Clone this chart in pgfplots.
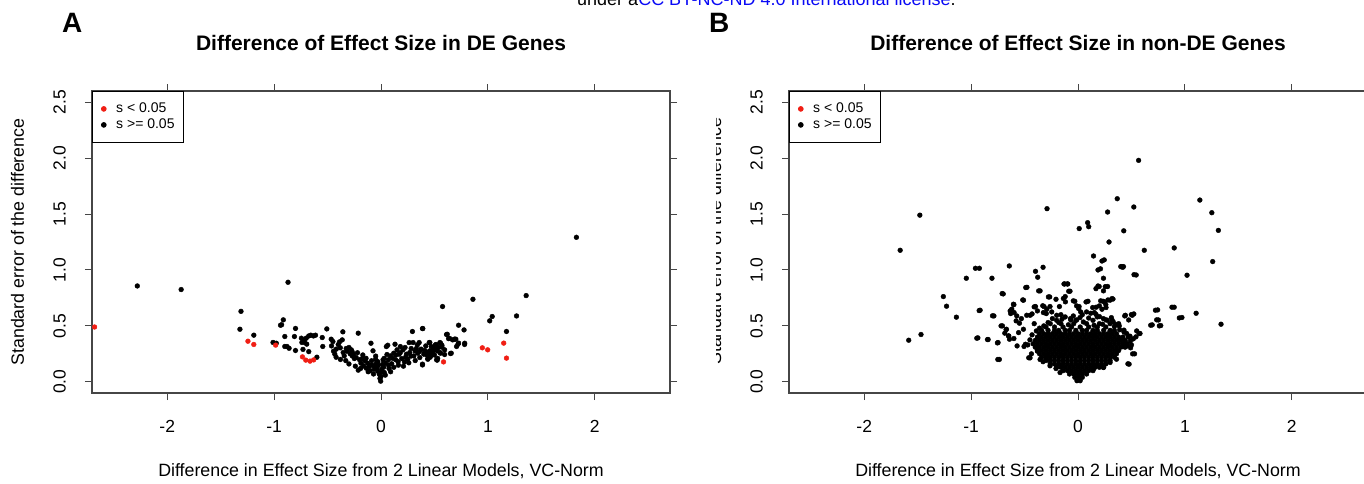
\documentclass[border=0pt]{standalone}
\usepackage{pgfplots}
\pgfplotsset{compat=1.18}
\usepackage{fontspec}
\setmainfont{Liberation Sans}
\definecolor{rred}{RGB}{240,30,20}
\definecolor{lic}{RGB}{10,10,245}
\definecolor{frame}{RGB}{70,70,70}
\pgfplotsset{
 rstyle/.style={
  scale only axis, width=578pt, height=302pt,
  xmin=-2.704, xmax=2.704, ymin=-0.1, ymax=2.6,
  xtick={-2,-1,0,1,2}, ytick={0,0.5,1,1.5,2,2.5},
  tick align=outside, major tick length=7pt,
  every tick/.style={frame, line width=1pt},
  axis line style={frame, line width=1.2pt},
  tick label style={font=\fontsize{17.5}{20}\selectfont},
  /pgf/number format/assume math mode=true,
  yticklabel style={/pgf/number format/fixed, /pgf/number format/fixed zerofill, /pgf/number format/precision=1, rotate=90, anchor=base},
  xticklabel style={anchor=base},
  xticklabel shift=32.3pt, yticklabel shift=19.3pt,
  label style={font=\fontsize{17.8}{20}\selectfont},
  xlabel style={at={([yshift=-83.7pt]axis description cs:0.5,0)}, anchor=base},
  ylabel style={at={([xshift=-68pt]axis description cs:0,0.5)}, anchor=base},
  title style={at={([yshift=34.7pt]axis description cs:0.5,1)}, anchor=base, font=\bfseries\fontsize{21}{24}\selectfont},
  xlabel={Difference in Effect Size from 2 Linear Models, VC-Norm},
  ylabel={Standard error of the difference},
  legend cell align=left,
  legend style={at={(0,1)}, anchor=north west, draw=black, line width=0.8pt, fill=white,
    font=\fontsize{14}{16}\selectfont, inner xsep=9pt, inner ysep=11pt, row sep=3pt, column sep=10pt,
    nodes={inner sep=0pt, text height=10pt, text depth=3pt}},
  legend image code/.code={\draw[mark=*, mark size=2.4pt, #1] plot coordinates {(0pt,0pt)};},
 },
 pts/.style={only marks, mark=*, mark size=2.4pt, forget plot},
}
\begin{document}
\begin{tikzpicture}
\useasboundingbox (0pt,0pt) rectangle (1364pt,483pt);
% ---------------- Panel A ----------------
\begin{axis}[rstyle, at={(92pt,90pt)}, anchor=south west,
  title={Difference of Effect Size in DE Genes}]
\addlegendimage{only marks, mark=*, mark size=2.4pt, rred}
\addlegendentry{s < 0.05}
\addlegendimage{only marks, mark=*, mark size=2.4pt, black}
\addlegendentry{s >= 0.05}
\addplot[pts, black] coordinates {
(-2.28,0.857) (-1.87,0.825) (-1.31,0.63) (-1.32,0.47) (-1.19,0.417) (-0.94,0.506) (-0.914,0.554)
(-1.01,0.352) (-0.98,0.345) (-0.90,0.405) (-0.90,0.316) (-0.87,0.89) (-0.93,0.51)
(-0.88,0.316) (-0.86,0.30) (-0.80,0.477) (-0.81,0.405) (-0.80,0.28)
(-0.745,0.39) (-0.72,0.375) (-0.70,0.39) (-0.676,0.41) (-0.657,0.417) (-0.632,0.41) (-0.613,0.417)
(-0.74,0.352) (-0.714,0.352) (-0.695,0.337) (-0.73,0.29) (-0.676,0.27) (-0.60,0.22)
(-0.55,0.396) (-0.545,0.316) (-0.507,0.473) (-0.466,0.381)
(-0.463,0.321) (-0.444,0.274) (-0.432,0.247) (-0.419,0.292) (-0.40,0.333) (-0.388,0.357) (-0.381,0.304)
(-0.363,0.375) (-0.357,0.447) (-0.354,0.262) (-0.344,0.232) (-0.326,0.298) (-0.319,0.274) (-0.30,0.307)
(-0.288,0.25) (-0.278,0.286) (-0.269,0.232) (-0.25,0.208) (-0.257,0.247) (-0.232,0.217) (-0.213,0.435)
(-0.213,0.104) (-0.20,0.197) (-0.188,0.167) (-0.175,0.208) (-0.163,0.143) (-0.15,0.188) (-0.138,0.122)
(-0.125,0.167) (-0.113,0.137) (-0.10,0.10) (-0.094,0.345) (-0.088,0.188) (-0.075,0.277) (-0.069,0.143)
(-0.063,0.113) (-0.05,0.202) (-0.044,0.167) (-0.038,0.125) (-0.031,0.095) (-0.025,0.149) (-0.016,0.068)
(-0.01,0.03) (-0.003,0.006) (0,0.048) (0.006,0.113) (0.013,0.155) (0.019,0.197) (0.025,0.131)
(0.031,0.083) (0.044,0.167) (0.05,0.315) (0.056,0.244) (0.063,0.327) (0.069,0.197) (0.075,0.119)
(0.088,0.232) (0.10,0.161) (0.119,0.256) (0.131,0.336) (0.138,0.197) (0.15,0.286) (0.163,0.149)
(0.169,0.247) (0.181,0.315) (0.194,0.208) (0.206,0.286) (0.219,0.178) (0.225,0.307) (0.238,0.247)
(0.25,0.202) (0.263,0.351) (0.269,0.262) (0.282,0.298) (0.294,0.45) (0.30,0.351) (0.307,0.232)
(0.319,0.277) (0.331,0.298) (0.344,0.256) (0.357,0.351) (0.363,0.217) (0.376,0.292) (0.388,0.476)
(0.388,0.158) (0.401,0.247) (0.419,0.321) (0.438,0.208) (0.451,0.351) (0.457,0.277) (0.47,0.315)
(0.482,0.256) (0.495,0.298) (0.507,0.327) (0.52,0.197) (0.526,0.277) (0.538,0.307) (0.551,0.351)
(0.557,0.256) (0.57,0.327)
(-0.45,0.36) (-0.42,0.22) (-0.38,0.20) (-0.33,0.19) (-0.30,0.16) (-0.27,0.27) (-0.24,0.14) (-0.22,0.26)
(-0.19,0.12) (-0.17,0.24) (-0.14,0.21) (-0.12,0.09) (-0.09,0.15) (-0.07,0.07) (-0.05,0.23) (-0.03,0.18)
(0.01,0.09) (0.03,0.21) (0.04,0.06) (0.07,0.15) (0.09,0.09) (0.11,0.21) (0.12,0.13) (0.14,0.24)
(0.16,0.18) (0.18,0.26) (0.21,0.14) (0.23,0.22) (0.26,0.17) (0.28,0.23) (0.32,0.19) (0.34,0.33)
(0.36,0.27) (0.41,0.28) (0.43,0.24) (0.46,0.22) (0.50,0.24) (0.53,0.21)
(0.576,0.673) (0.62,0.425) (0.632,0.386) (0.657,0.256) (0.67,0.375) (0.70,0.381) (0.72,0.336)
(0.726,0.506) (0.777,0.464) (0.783,0.345) (0.86,0.738) (1.828,1.292) (1.358,0.771) (1.04,0.584)
(1.017,0.545) (1.268,0.589) (1.174,0.45)
(0.391,0.476) (0.613,0.423) (0.642,0.388) (0.689,0.382) (0.726,0.346) (0.707,0.316) (0.782,0.334)
(0.65,0.253) (0.457,0.351) (0.514,0.334) (0.557,0.346) (0.57,0.31) (0.595,0.286) (0.526,0.304)
(0.488,0.28) (0.445,0.268) (0.551,0.262) (0.47,0.238) (0.438,0.202) (0.526,0.194) (0.595,0.244)
(0.388,0.151) (0.407,0.262)
};
\addplot[pts, rred] coordinates {
(-2.68,0.49) (-1.245,0.363) (-1.19,0.334) (-0.986,0.328) (-0.735,0.223) (-0.704,0.194) (-0.664,0.185)
(-0.63,0.196) (0.585,0.178) (0.948,0.304) (0.998,0.286) (1.148,0.346) (1.174,0.212)
};
\end{axis}
% ---------------- Panel B ----------------
\begin{axis}[rstyle, at={(789pt,90pt)}, anchor=south west, ylabel={},
  title={Difference of Effect Size in non-DE Genes}]
\addlegendimage{only marks, mark=*, mark size=2.4pt, rred}
\addlegendentry{s < 0.05}
\addlegendimage{only marks, mark=*, mark size=2.4pt, black}
\addlegendentry{s >= 0.05}
% dense core
\addplot[pts, black] coordinates {
(-0.01,0.01) (0.02,0.01)
(-0.03,0.04) (0.01,0.04) (0.04,0.04)
(-0.08,0.07) (-0.04,0.07) (0,0.07) (0.04,0.07) (0.08,0.07)
(-0.14,0.10) (-0.10,0.10) (-0.06,0.10) (-0.02,0.10) (0.02,0.10) (0.06,0.10) (0.10,0.10) (0.14,0.10)
(-0.20,0.13) (-0.16,0.13) (-0.12,0.13) (-0.08,0.13) (-0.04,0.13) (0,0.13) (0.04,0.13) (0.08,0.13) (0.12,0.13) (0.16,0.13) (0.20,0.13) (0.24,0.13)
(-0.26,0.16) (-0.22,0.16) (-0.18,0.16) (-0.14,0.16) (-0.10,0.16) (-0.06,0.16) (-0.02,0.16) (0.02,0.16) (0.06,0.16) (0.10,0.16) (0.14,0.16) (0.18,0.16) (0.22,0.16) (0.26,0.16)
(-0.30,0.19) (-0.26,0.19) (-0.22,0.19) (-0.18,0.19) (-0.14,0.19) (-0.10,0.19) (-0.06,0.19) (-0.02,0.19) (0.02,0.19) (0.06,0.19) (0.10,0.19) (0.14,0.19) (0.18,0.19) (0.22,0.19) (0.26,0.19) (0.30,0.19)
(-0.34,0.22) (-0.30,0.22) (-0.26,0.22) (-0.22,0.22) (-0.18,0.22) (-0.14,0.22) (-0.10,0.22) (-0.06,0.22) (-0.02,0.22) (0.02,0.22) (0.06,0.22) (0.10,0.22) (0.14,0.22) (0.18,0.22) (0.22,0.22) (0.26,0.22) (0.30,0.22) (0.34,0.22)
(-0.36,0.25) (-0.32,0.25) (-0.28,0.25) (-0.24,0.25) (-0.20,0.25) (-0.16,0.25) (-0.12,0.25) (-0.08,0.25) (-0.04,0.25) (0,0.25) (0.04,0.25) (0.08,0.25) (0.12,0.25) (0.16,0.25) (0.20,0.25) (0.24,0.25) (0.28,0.25) (0.32,0.25) (0.36,0.25)
(-0.38,0.28) (-0.34,0.28) (-0.30,0.28) (-0.26,0.28) (-0.22,0.28) (-0.18,0.28) (-0.14,0.28) (-0.10,0.28) (-0.06,0.28) (-0.02,0.28) (0.02,0.28) (0.06,0.28) (0.10,0.28) (0.14,0.28) (0.18,0.28) (0.22,0.28) (0.26,0.28) (0.30,0.28) (0.34,0.28) (0.38,0.28)
(-0.40,0.31) (-0.36,0.31) (-0.32,0.31) (-0.28,0.31) (-0.24,0.31) (-0.20,0.31) (-0.16,0.31) (-0.12,0.31) (-0.08,0.31) (-0.04,0.31) (0,0.31) (0.04,0.31) (0.08,0.31) (0.12,0.31) (0.16,0.31) (0.20,0.31) (0.24,0.31) (0.28,0.31) (0.32,0.31) (0.36,0.31) (0.40,0.31) (0.44,0.31)
(-0.42,0.34) (-0.38,0.34) (-0.34,0.34) (-0.30,0.34) (-0.26,0.34) (-0.22,0.34) (-0.18,0.34) (-0.14,0.34) (-0.10,0.34) (-0.06,0.34) (-0.02,0.34) (0.02,0.34) (0.06,0.34) (0.10,0.34) (0.14,0.34) (0.18,0.34) (0.22,0.34) (0.26,0.34) (0.30,0.34) (0.34,0.34) (0.38,0.34) (0.42,0.34) (0.46,0.34)
(-0.40,0.37) (-0.36,0.37) (-0.32,0.37) (-0.28,0.37) (-0.24,0.37) (-0.20,0.37) (-0.16,0.37) (-0.12,0.37) (-0.08,0.37) (-0.04,0.37) (0,0.37) (0.04,0.37) (0.08,0.37) (0.12,0.37) (0.16,0.37) (0.20,0.37) (0.24,0.37) (0.28,0.37) (0.32,0.37) (0.36,0.37) (0.40,0.37) (0.44,0.37)
(-0.38,0.40) (-0.34,0.40) (-0.30,0.40) (-0.26,0.40) (-0.22,0.40) (-0.18,0.40) (-0.14,0.40) (-0.10,0.40) (-0.06,0.40) (-0.02,0.40) (0.02,0.40) (0.06,0.40) (0.10,0.40) (0.14,0.40) (0.18,0.40) (0.22,0.40) (0.26,0.40) (0.30,0.40) (0.34,0.40) (0.38,0.40) (0.42,0.40)
(-0.36,0.43) (-0.32,0.43) (-0.28,0.43) (-0.24,0.43) (-0.20,0.43) (-0.16,0.43) (-0.12,0.43) (-0.08,0.43) (-0.04,0.43) (0,0.43) (0.04,0.43) (0.08,0.43) (0.12,0.43) (0.16,0.43) (0.20,0.43) (0.24,0.43) (0.28,0.43) (0.32,0.43) (0.36,0.43)
(-0.34,0.46) (-0.28,0.46) (-0.22,0.46) (-0.18,0.46) (-0.12,0.46) (-0.08,0.46) (-0.02,0.46) (0.04,0.46) (0.08,0.46) (0.14,0.46) (0.18,0.46) (0.24,0.46) (0.30,0.46) (0.34,0.46)
(-0.30,0.49) (-0.22,0.49) (-0.14,0.49) (-0.06,0.49) (0.02,0.49) (0.10,0.49) (0.18,0.49) (0.26,0.49)
(-0.26,0.52) (-0.16,0.52) (-0.04,0.52) (0.08,0.52) (0.20,0.52) (0.30,0.52)
(-0.20,0.55) (-0.02,0.55) (0.14,0.55)
(-0.32,0.50) (-0.09,0.51) (0.05,0.535) (0.15,0.505) (0.23,0.515) (0.34,0.495) (0.39,0.465)
(-0.39,0.455) (-0.43,0.42) (0.43,0.445) (0.47,0.40) (0.49,0.365) (-0.45,0.375) (-0.47,0.33)
(0.50,0.33) (-0.12,0.58) (0.04,0.60) (0.10,0.57) (-0.24,0.565) (0.26,0.555) (0.32,0.55)
(-0.28,0.53) (-0.07,0.565) (0.18,0.58) (-0.36,0.48) (0.38,0.52) (-0.16,0.60) (0.08,0.625)
};
% scattered points
\addplot[pts, black] coordinates {
(0.567,1.98) (-1.48,1.49) (-1.664,1.176) (-0.29,1.548) (0.367,1.637) (0.277,1.518) (0.522,1.563)
(1.14,1.625) (1.252,1.512) (1.313,1.354) (0.011,1.37) (0.09,1.423) (0.10,1.387) (0.428,1.35)
(0.29,1.25) (0.62,1.176) (0.90,1.197) (1.26,1.075) (0.145,1.125) (0.245,1.09) (0.21,1.01)
(0.41,1.03) (0.425,1.03) (0.544,0.955) (1.02,0.953) (0.238,0.926) (0.198,0.852) (0.277,0.852)
(-0.96,1.015) (-0.923,1.015) (-0.643,1.036) (-1.045,0.926) (-0.805,0.926) (-0.398,0.988)
(-0.377,0.935) (-0.327,1.024) (-0.478,0.845) (-0.355,0.813) (-0.125,0.875) (-0.096,0.875)
(-0.075,0.81) (-0.70,0.786) (-1.26,0.762) (-1.23,0.676) (-1.138,0.578) (-0.916,0.64) (-0.787,0.589)
(-1.584,0.372) (-1.469,0.423) (-0.937,0.393) (-0.841,0.378) (-0.748,0.351) (-0.736,0.2)
(0.478,0.158) (0.745,0.643) (0.9,0.667) (1.105,0.613) (0.972,0.575) (1.338,0.515) (0.694,0.509)
(0.752,0.553) (0.774,0.503) (0.507,0.595) (0.522,0.607) (0.443,0.595) (0.12,0.613) (-0.51,0.73)
(-0.6,0.69) (-0.62,0.65) (-0.63,0.61) (-0.398,0.673) (-0.33,0.68) (-0.297,0.61) (-0.265,0.759)
(-0.12,0.762) (-0.03,0.72) (0.01,0.673) (0.093,0.72) (0.17,0.667) (0.234,0.72) (0.26,0.69)
(0.30,0.73) (0.327,0.74) (0.238,0.813) (-0.206,0.738) (-0.707,0.5) (-0.67,0.47) (-0.556,0.44)
(-0.65,0.41) (-0.6,0.387) (-0.57,0.321) (-0.449,0.214) (-0.327,0.18) (0.529,0.25) (0.572,0.432)
(-0.71,0.789) (-0.925,0.637) (-0.80,0.59) (-0.947,0.39) (-0.847,0.378) (-0.754,0.348) (-0.75,0.20)
(-0.72,0.50) (-0.673,0.467) (-0.685,0.435) (-0.641,0.381) (-0.648,0.41) (-0.604,0.694) (-0.635,0.634)
(-0.598,0.619) (-0.573,0.589) (-0.579,0.545) (-0.548,0.524) (-0.53,0.565) (-0.511,0.47) (-0.48,0.595)
(-0.492,0.336) (-0.505,0.316) (-0.461,0.215) (-0.436,0.25) (-0.517,0.732) (-0.489,0.843)
(-0.368,0.813) (-0.277,0.759) (-0.41,0.67) (-0.38,0.634) (-0.318,0.673) (-0.448,0.595) (-0.43,0.607)
(-0.41,0.52) (-0.324,0.619) (-0.293,0.649) (-0.262,0.673) (-0.246,0.625) (-0.199,0.595) (-0.174,0.673)
(-0.18,0.53) (-0.15,0.56) (-0.131,0.875) (-0.1,0.875) (-0.087,0.81) (-0.137,0.745) (-0.118,0.715)
(-0.044,0.724) (-0.013,0.679) (0.006,0.655) (0.025,0.625) (-0.044,0.589) (-0.068,0.553) (-0.013,0.553)
(0.018,0.574) (0.075,0.714) (0.137,0.664) (0.153,0.619) (0.168,0.833) (0.187,0.857) (0.187,1.0)
(0.224,1.08) (0.255,0.851) (0.212,0.724) (0.25,0.714) (0.28,0.732) (0.318,0.744) (0.2,0.679)
(0.224,0.649) (0.262,0.664) (0.168,0.604) (0.2,0.583) (0.237,0.565) (0.274,0.55) (0.312,0.574)
(0.33,0.535) (0.355,0.512) (0.386,0.5) (0.4,1.03) (0.418,1.024) (0.524,0.958) (0.437,0.589)
(0.499,0.601) (0.474,0.553) (0.43,0.462) (0.455,0.432) (0.486,0.408) (0.517,0.384) (0.549,0.455)
(0.58,0.432) (0.542,0.402) (0.44,0.363) (0.46,0.321) (0.492,0.304) (0.511,0.25) (0.467,0.161)
(0.361,0.274) (0.418,0.315) (0.393,0.38) (0.68,0.506) (0.724,0.64) (0.736,0.554) (0.761,0.5)
(0.879,0.667) (0.948,0.571) (-0.38,0.274) (-0.355,0.2) (-0.293,0.2) (-0.262,0.143) (-0.206,0.119)
(-0.386,0.307) (-0.168,0.083) (0.143,0.113) (0.237,0.128) (0.3,0.173) (0.36,0.202)
};
\end{axis}
% clipped y label of panel B
\begin{scope}
\clip (716pt,0pt) rectangle (760pt,483pt);
\node[rotate=90, anchor=base, inner sep=0pt, font=\fontsize{17.8}{20}\selectfont] at (721pt,241.8pt) {Standard error of the difference};
\end{scope}
% panel letters and header
\node[anchor=base west, inner sep=0pt, font=\bfseries\fontsize{28}{30}\selectfont] at (62pt,450.3pt) {A};
\node[anchor=base west, inner sep=0pt, font=\bfseries\fontsize{28}{30}\selectfont] at (709pt,450.3pt) {B};
\node[anchor=base west, inner sep=0pt, font=\fontsize{18}{20}\selectfont] at (577pt,477.5pt) {under a\textcolor{lic}{CC BY-NC-ND 4.0 International license}.};
\end{tikzpicture}
\end{document}
